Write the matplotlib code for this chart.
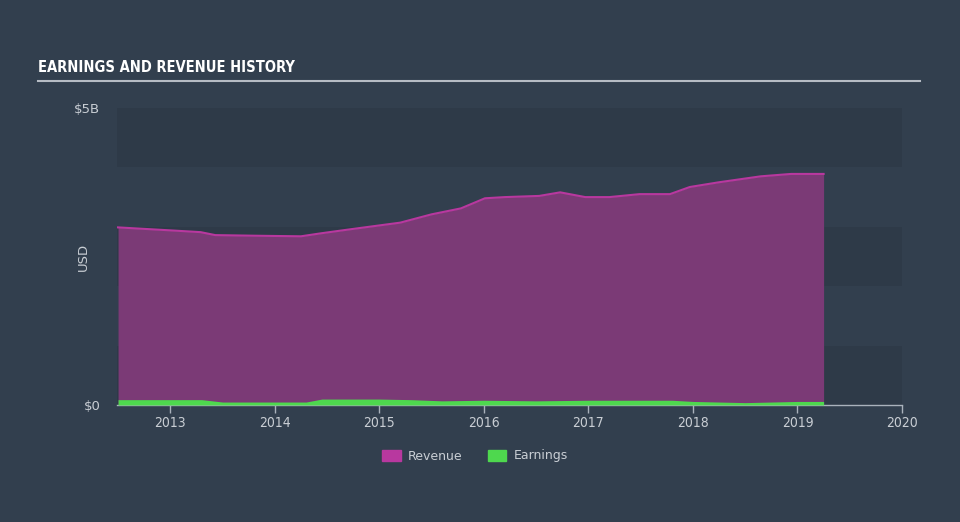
import matplotlib
matplotlib.use("Agg")
import matplotlib.pyplot as plt
from matplotlib.patches import Patch
import numpy as np

# Data (in billions USD)
rev_t = [2012.5, 2013.0, 2013.29, 2013.43, 2013.8, 2014.25, 2014.44, 2014.73, 2015.2, 2015.5,
         2015.78, 2016.01, 2016.2, 2016.53, 2016.73, 2016.97, 2017.2, 2017.49, 2017.78,
         2017.97, 2018.25, 2018.65, 2018.94, 2019.25]
rev_v = [2.99, 2.94, 2.91, 2.86, 2.85, 2.84, 2.89, 2.96, 3.07, 3.21,
         3.31, 3.48, 3.50, 3.52, 3.58, 3.50, 3.50, 3.55, 3.55,
         3.67, 3.75, 3.85, 3.89, 3.89]
earn_t = [2012.5, 2013.0, 2013.3, 2013.5, 2014.0, 2014.3, 2014.45, 2015.0, 2015.3, 2015.6,
          2016.0, 2016.5, 2017.0, 2017.5, 2017.8, 2018.0, 2018.5, 2019.0, 2019.25]
earn_v = [0.09, 0.09, 0.09, 0.05, 0.05, 0.05, 0.10, 0.10, 0.09, 0.07,
          0.08, 0.07, 0.08, 0.08, 0.08, 0.06, 0.04, 0.06, 0.06]
year_ticks = [2013, 2014, 2015, 2016, 2017, 2018, 2019, 2020]
y_ticks = [0, 5]
y_tick_labels = ["$0", "$5B"]

BG = "#323f4e"
BAND = "#2e3a48"
REV_FILL = "#7b3a76"
REV_LINE = "#b8389f"
EARN = "#4ed84e"
TXT = "#c9ced4"

fig = plt.figure(figsize=(9.6, 5.22), dpi=100, facecolor=BG)
ax = fig.add_axes([117/960, (522-405)/522, (902-117)/960, (405-108)/522])
ax.set_facecolor(BG)
ax.set_xlim(2012.49, 2020.0)
ax.set_ylim(0, 5)

# background bands
for lo in (0, 2, 4):
    ax.axhspan(lo, lo + 1, color=BAND, zorder=0, lw=0)

ax.fill_between(rev_t, 0, rev_v, color=REV_FILL, lw=0, zorder=2)
ax.plot(rev_t, rev_v, color=REV_LINE, lw=1.5, zorder=3)
ax.fill_between(earn_t, 0, earn_v, color=EARN, lw=0, zorder=4)

for s in ("top", "right", "left"):
    ax.spines[s].set_visible(False)
ax.spines["bottom"].set_color("#aab2bc")
ax.spines["bottom"].set_linewidth(1)
ax.set_xticks(year_ticks)
ax.set_xticklabels([str(y) for y in year_ticks], fontstretch="condensed")
ax.tick_params(axis="x", colors="#aab2bc", length=6, width=1, labelcolor=TXT, labelsize=10, pad=2)
ax.set_yticks(y_ticks)
ax.set_yticklabels(y_tick_labels)
ax.tick_params(axis="y", length=0, labelcolor=TXT, labelsize=9.5, pad=12)
ax.set_ylabel("USD", color=TXT, fontsize=9.5)
ax.yaxis.set_label_coords((90 - 117) / 785, 0.5)

fig.text(38/960, 1 - 68/522, "EARNINGS AND REVENUE HISTORY", color="white",
         fontsize=10.5, fontweight="bold", family="DejaVu Sans", fontstretch="condensed",
         va="center", ha="left")
fig.add_artist(plt.Line2D([38/960, 920/960], [1 - 81/522, 1 - 81/522],
                          color="#b6bcc4", lw=1.5, transform=fig.transFigure))

handles = [Patch(color=REV_LINE, label="Revenue"), Patch(color=EARN, label="Earnings")]
leg = fig.legend(handles=handles, loc="center", bbox_to_anchor=(475/960, 1 - 456/522),
                 ncol=2, frameon=False, fontsize=9, labelcolor=TXT,
                 handlelength=1.5, handleheight=1.0, columnspacing=2.0, handletextpad=0.6)

fig.savefig("out.png", dpi=100, facecolor=BG)
